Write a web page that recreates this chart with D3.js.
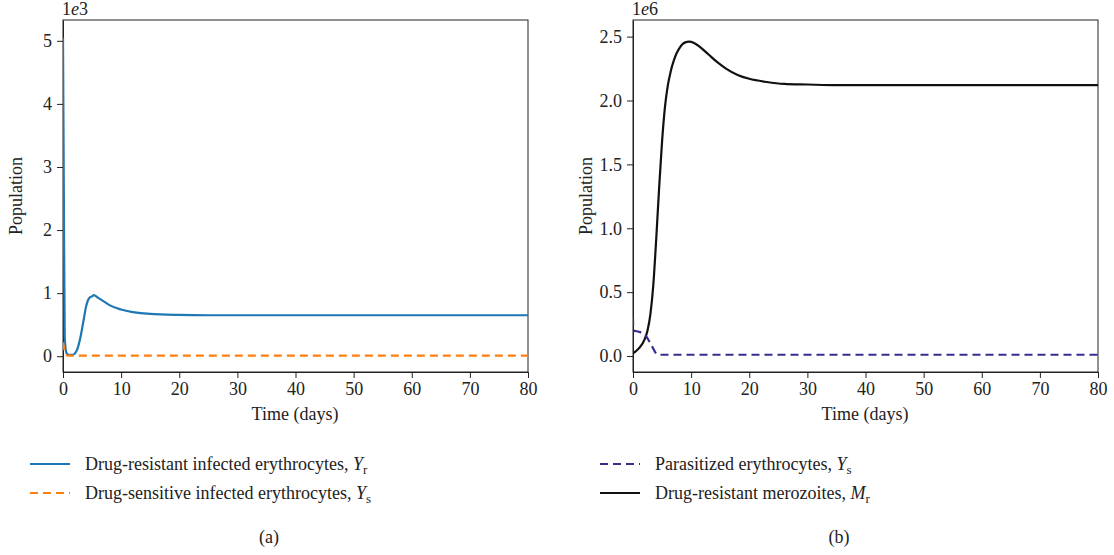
<!DOCTYPE html>
<html><head><meta charset="utf-8">
<script src="https://cdn.jsdelivr.net/npm/d3@7"></script>
<style>
body{margin:0;background:#fff;}
svg text{font-family:"Liberation Serif",serif;fill:#222;}
</style></head><body>
<svg id="chart" width="1114" height="555"></svg>
<script>
// Data ____________________________________________________
const xTicks = [0, 10, 20, 30, 40, 50, 60, 70, 80];

// panel (a), values in units of 1e3
const timeA = [0, 0.15, 0.3, 0.6, 1, 1.5, 2, 2.5, 3, 3.5, 4, 4.5, 5, 5.3, 6, 7, 8, 10, 12, 15, 20, 25, 30, 40, 80];
const yrA   = [5.05, 2.5, 0.3, 0.05, 0.02, 0.02, 0.04, 0.12, 0.3, 0.55, 0.8, 0.92, 0.95, 0.97, 0.93, 0.87, 0.81, 0.74, 0.70, 0.67, 0.655, 0.65, 0.65, 0.65, 0.65];
const timeAs = [0, 0.2, 0.5, 1, 80];
const ysA    = [0.22, 0.12, 0.02, 0.01, 0.01];

// panel (b), values in units of 1e6
const timeB = [0, 1, 2, 2.5, 3, 3.5, 4, 4.5, 5, 5.5, 6, 6.5, 7, 7.5, 8, 8.5, 9, 9.6, 10.5, 11.5, 13, 14.5, 16, 18, 20, 23, 26, 30, 35, 40, 80];
const mrB   = [0.02, 0.06, 0.13, 0.2, 0.33, 0.56, 0.92, 1.32, 1.68, 1.95, 2.12, 2.23, 2.31, 2.37, 2.41, 2.44, 2.455, 2.46, 2.45, 2.42, 2.36, 2.3, 2.25, 2.2, 2.17, 2.145, 2.13, 2.125, 2.12, 2.12, 2.12];
const timeBs = [0, 0.05, 1, 2, 3, 4.3, 5, 80];
const ysB    = [0.3, 0.2, 0.19, 0.17, 0.1, 0.01, 0.01, 0.01];

const yTicksA = [0, 1, 2, 3, 4, 5];
const yTicksB = [0, 0.5, 1.0, 1.5, 2.0, 2.5];

const svg = d3.select('#chart');
const font = '"Liberation Serif", serif';

function panel(cfg) {
    let x = d3.scaleLinear().domain([0, 80]).range([cfg.left, cfg.left + 465]);
    let y = d3.scaleLinear().domain(cfg.yDomain).range([372, 20]);
    let g = svg.append('g');

    g.append('g').attr('transform', 'translate(0,372)')
        .call(d3.axisBottom(x).tickValues(xTicks).tickSize(6).tickPadding(4).tickSizeOuter(0))
        .attr('font-family', font).attr('font-size', 18);
    g.append('g').attr('transform', `translate(${cfg.left},0)`)
        .call(d3.axisLeft(y).tickValues(cfg.yTicks).tickFormat(cfg.fmt).tickSize(6).tickPadding(5).tickSizeOuter(0))
        .attr('font-family', font).attr('font-size', 18);
    g.selectAll('path.domain, .tick line').attr('stroke', '#222');
    g.append('rect').attr('x', cfg.left).attr('y', 20).attr('width', 465).attr('height', 352)
        .attr('fill', 'none').attr('stroke', '#222').attr('stroke-width', 1);

    let ex = g.append('text').attr('x', cfg.left - 1).attr('y', 15).attr('font-size', 18);
    ex.append('tspan').text(cfg.expo[0]);
    ex.append('tspan').attr('font-style', 'italic').text('e');
    ex.append('tspan').text(cfg.expo[1]);
    g.append('text').attr('x', cfg.left + 232).attr('y', 420).attr('text-anchor', 'middle')
        .attr('font-size', 18).text('Time (days)');
    g.append('text').attr('transform', `translate(${cfg.left - 41},196) rotate(-90)`)
        .attr('text-anchor', 'middle').attr('font-size', 18).text('Population');

    let clip = 'clip' + cfg.left;
    g.append('clipPath').attr('id', clip).append('rect')
        .attr('x', cfg.left).attr('y', 20).attr('width', 465).attr('height', 352);

    let line = d3.line().x(d => x(d[0])).y(d => y(d[1])).curve(d3.curveMonotoneX);
    cfg.series.forEach(s => {
        g.append('path').datum(d3.zip(s.t, s.v))
            .attr('clip-path', `url(#${clip})`)
            .attr('d', line).attr('fill', 'none')
            .attr('stroke', s.color).attr('stroke-width', 2.2)
            .attr('stroke-dasharray', s.dash ? '8,5' : null);
    });

    // legend
    cfg.series.slice().sort((a, b) => a.order - b.order).forEach((s, i) => {
        let ly = 464 + i * 29;
        g.append('line').attr('x1', cfg.left - 33).attr('x2', cfg.left + 7)
            .attr('y1', ly).attr('y2', ly).attr('stroke', s.color).attr('stroke-width', 2.2)
            .attr('stroke-dasharray', s.dash ? '8,5' : null);
        let t = g.append('text').attr('x', cfg.left + 22).attr('y', ly + 6).attr('font-size', 18);
        t.append('tspan').text(s.label + ', ');
        t.append('tspan').attr('font-style', 'italic').text(s.sym);
        t.append('tspan').attr('font-size', 13).attr('dy', 4).text(s.sub);
    });

    g.append('text').attr('x', cfg.left + 206).attr('y', 543).attr('text-anchor', 'middle')
        .attr('font-size', 18).text(cfg.caption);
}

panel({
    left: 63, yDomain: [-0.25, 5.33], yTicks: yTicksA, fmt: d3.format('d'), expo: ['1', '3'], caption: '(a)',
    series: [
        {t: timeA, v: yrA, color: '#1f77b4', order: 0, label: 'Drug-resistant infected erythrocytes', sym: 'Y', sub: 'r'},
        {t: timeAs, v: ysA, color: '#ff7f0e', dash: true, order: 1, label: 'Drug-sensitive infected erythrocytes', sym: 'Y', sub: 's'}
    ]
});
panel({
    left: 633, yDomain: [-0.125, 2.63], yTicks: yTicksB, fmt: d3.format('.1f'), expo: ['1', '6'], caption: '(b)',
    series: [
        {t: timeB, v: mrB, color: '#111111', order: 1, label: 'Drug-resistant merozoites', sym: 'M', sub: 'r'},
        {t: timeBs, v: ysB, color: '#332e8f', dash: true, order: 0, label: 'Parasitized erythrocytes', sym: 'Y', sub: 's'}
    ]
});
</script>
</body></html>
